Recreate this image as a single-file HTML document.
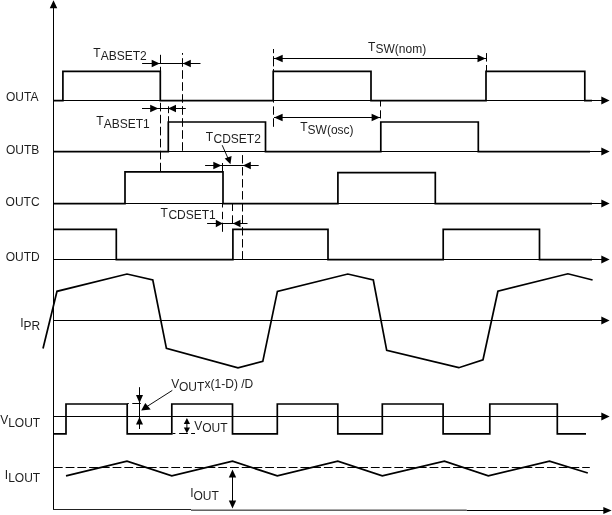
<!DOCTYPE html>
<html><head><meta charset="utf-8"><title>Timing diagram</title>
<style>
html,body{margin:0;padding:0;background:#fff;}
svg{display:block;will-change:transform;}
text{font-family:"Liberation Sans",sans-serif;fill:#1e1e1e;}
</style></head>
<body>
<svg width="612" height="515" viewBox="0 0 612 515">
<rect width="612" height="515" fill="#fff"/>
<line x1="53.5" y1="8" x2="53.5" y2="510" stroke="#000" stroke-width="1" />
<polygon points="53.5,0.3 49.75,8.3 57.25,8.3" fill="#000"/>
<line x1="53" y1="509.5" x2="191" y2="509.5" stroke="#222" stroke-width="1"/>
<line x1="191" y1="510.15" x2="466.7" y2="510.15" stroke="#000" stroke-width="0.95"/>
<line x1="466.7" y1="510.5" x2="604" y2="510.5" stroke="#000" stroke-width="1" />
<polygon points="611.6,510.5 603.3,506.9 603.3,514.1" fill="#000"/>
<line x1="53.5" y1="100.5" x2="603" y2="100.5" stroke="#000" stroke-width="1" />
<polygon points="609.6,100.5 601.3,96.6 601.3,104.4" fill="#000"/>
<line x1="53.5" y1="151.5" x2="603" y2="151.5" stroke="#000" stroke-width="1" />
<polygon points="609.6,151.5 601.3,147.6 601.3,155.4" fill="#000"/>
<line x1="53.5" y1="203.5" x2="603" y2="203.5" stroke="#000" stroke-width="1" />
<polygon points="609.6,203.5 601.3,199.6 601.3,207.4" fill="#000"/>
<line x1="53.5" y1="259.5" x2="603" y2="259.5" stroke="#000" stroke-width="1" />
<polygon points="609.6,259.5 601.3,255.6 601.3,263.4" fill="#000"/>
<line x1="53.5" y1="320.5" x2="603" y2="320.5" stroke="#000" stroke-width="1" />
<polygon points="609.6,320.5 601.3,316.6 601.3,324.4" fill="#000"/>
<line x1="53.5" y1="416.5" x2="603" y2="416.5" stroke="#000" stroke-width="1" />
<polygon points="609.6,416.5 601.3,412.6 601.3,420.4" fill="#000"/>
<polyline points="53.5,100.7 62.9,100.7 62.9,71.3 160.3,71.3 160.3,100.7 273.2,100.7 273.2,71.3 371,71.3 371,100.7 486,100.7 486,71.3 584.8,71.3 584.8,100.7 592,100.7" fill="none" stroke="#000" stroke-width="1.7" stroke-linejoin="miter" />
<polyline points="53.5,151.7 168.3,151.7 168.3,122 265.5,122 265.5,151.7 380.8,151.7 380.8,122 478.3,122 478.3,151.7 590,151.7" fill="none" stroke="#000" stroke-width="1.7" stroke-linejoin="miter" />
<polyline points="53.5,203.7 125,203.7 125,171.85 223,171.85 223,203.7 337.9,203.7 337.9,172.65 435.3,172.65 435.3,203.7 592,203.7" fill="none" stroke="#000" stroke-width="1.7" stroke-linejoin="miter" />
<polyline points="53.5,229.3 116.3,229.3 116.3,259.7 232.9,259.7 232.9,229.3 328,229.3 328,259.7 443.2,259.7 443.2,229.3 539.5,229.3 539.5,259.7 592,259.7" fill="none" stroke="#000" stroke-width="1.7" stroke-linejoin="miter" />
<polyline points="43,348.5 57,291.3 127,274 152.8,280 166.4,348.4 238,367.8 262.8,361.4 277.4,291.4 347.8,274 373.3,280 386.7,350.3 458.8,367.7 483,359.8 497.9,291.2 567.9,273.8 592.6,280" fill="none" stroke="#000" stroke-width="1.7" stroke-linejoin="miter" />
<polyline points="53.5,433.8 66,433.8 66,404 127.2,404 127.2,433.8 171.8,433.8 171.8,404 232.5,404 232.5,433.8 277.3,433.8 277.3,404 337.8,404 337.8,433.8 382.3,433.8 382.3,404 443.1,404 443.1,433.8 489.8,433.8 489.8,404 557.3,404 557.3,433.8 586,433.8" fill="none" stroke="#000" stroke-width="1.7" stroke-linejoin="miter" />
<polyline points="66,475.9 127,461.2 171.8,475.9 232.5,461.2 277.3,475.9 337.8,461.2 382.3,475.9 444.4,461.2 488.3,475.9 549.5,461.2 587.8,473" fill="none" stroke="#000" stroke-width="1.7" stroke-linejoin="miter" />
<line x1="53.9" y1="467.5" x2="589.8" y2="467.5" stroke="#000" stroke-width="1" stroke-dasharray="8.8 2.94" stroke-dashoffset="0"/>
<line x1="142.1" y1="63.5" x2="200.5" y2="63.5" stroke="#000" stroke-width="1" />
<polygon points="159.8,63.5 151.7,59.8 151.7,67.2" fill="#000"/>
<polygon points="182.8,63.5 190.8,59.8 190.8,67.2" fill="#000"/>
<line x1="142" y1="108.5" x2="185.8" y2="108.5" stroke="#000" stroke-width="1" />
<polygon points="158.4,108.5 150.2,104.8 150.2,112.2" fill="#000"/>
<polygon points="168.1,108.5 176.0,104.8 176.0,112.2" fill="#000"/>
<line x1="274" y1="58.5" x2="486" y2="58.5" stroke="#000" stroke-width="1" />
<polygon points="274.2,58.5 282.7,54.8 282.7,62.2" fill="#000"/>
<polygon points="485.6,58.5 477.5,54.8 477.5,62.2" fill="#000"/>
<line x1="274" y1="117.5" x2="380" y2="117.5" stroke="#000" stroke-width="1" />
<polygon points="274.1,117.5 282.6,113.8 282.6,121.2" fill="#000"/>
<polygon points="379.9,117.5 371.6,113.8 371.6,121.2" fill="#000"/>
<line x1="205.1" y1="165.5" x2="258.7" y2="165.5" stroke="#000" stroke-width="1" />
<polygon points="221.5,165.5 213.3,161.8 213.3,169.2" fill="#000"/>
<polygon points="242.9,165.5 250.8,161.8 250.8,169.2" fill="#000"/>
<line x1="222.2" y1="145.2" x2="228.3" y2="159" stroke="#000" stroke-width="0.95" />
<polygon points="230.45,164.2 224.7,158.6 231.6,155.9" fill="#000"/>
<line x1="207.1" y1="223.5" x2="247.5" y2="223.5" stroke="#000" stroke-width="1" />
<polygon points="222.8,223.5 215.8,219.8 215.8,227.2" fill="#000"/>
<polygon points="232.9,223.5 240.5,219.8 240.5,227.2" fill="#000"/>
<line x1="160.5" y1="54.8" x2="160.5" y2="63.4" stroke="#000" stroke-width="1" />
<line x1="160.5" y1="66.8" x2="160.5" y2="75.4" stroke="#000" stroke-width="1" />
<line x1="160.5" y1="78.8" x2="160.5" y2="87.4" stroke="#000" stroke-width="1" />
<line x1="160.5" y1="90.8" x2="160.5" y2="99.4" stroke="#000" stroke-width="1" />
<line x1="160.5" y1="102.8" x2="160.5" y2="111.4" stroke="#000" stroke-width="1" />
<line x1="160.5" y1="114.8" x2="160.5" y2="123.4" stroke="#000" stroke-width="1" />
<line x1="160.5" y1="126.8" x2="160.5" y2="135.4" stroke="#000" stroke-width="1" />
<line x1="160.5" y1="138.8" x2="160.5" y2="147.4" stroke="#000" stroke-width="1" />
<line x1="160.5" y1="150.8" x2="160.5" y2="159.4" stroke="#000" stroke-width="1" />
<line x1="160.5" y1="162.8" x2="160.5" y2="171" stroke="#000" stroke-width="1" />
<line x1="182.5" y1="53" x2="182.5" y2="54.8" stroke="#000" stroke-width="1" />
<line x1="182.5" y1="58.2" x2="182.5" y2="66.8" stroke="#000" stroke-width="1" />
<line x1="182.5" y1="70.2" x2="182.5" y2="78.8" stroke="#000" stroke-width="1" />
<line x1="182.5" y1="82.2" x2="182.5" y2="90.8" stroke="#000" stroke-width="1" />
<line x1="182.5" y1="94.2" x2="182.5" y2="102.8" stroke="#000" stroke-width="1" />
<line x1="182.5" y1="106.2" x2="182.5" y2="114.8" stroke="#000" stroke-width="1" />
<line x1="182.5" y1="118.2" x2="182.5" y2="126.8" stroke="#000" stroke-width="1" />
<line x1="182.5" y1="130.2" x2="182.5" y2="138.8" stroke="#000" stroke-width="1" />
<line x1="182.5" y1="142.2" x2="182.5" y2="150.8" stroke="#000" stroke-width="1" />
<line x1="168.5" y1="106.3" x2="168.5" y2="113.2" stroke="#000" stroke-width="1" />
<line x1="168.5" y1="116.2" x2="168.5" y2="122" stroke="#000" stroke-width="1" />
<line x1="273.5" y1="49" x2="273.5" y2="53.2" stroke="#000" stroke-width="1" />
<line x1="273.5" y1="56.2" x2="273.5" y2="66.4" stroke="#000" stroke-width="1" />
<line x1="273.5" y1="69" x2="273.5" y2="71.5" stroke="#000" stroke-width="1" />
<line x1="273.5" y1="100.5" x2="273.5" y2="102.6" stroke="#000" stroke-width="1" />
<line x1="273.5" y1="106.4" x2="273.5" y2="114.75" stroke="#000" stroke-width="1" />
<line x1="273.5" y1="118.25" x2="273.5" y2="126.8" stroke="#000" stroke-width="1" />
<line x1="486.5" y1="53.1" x2="486.5" y2="61.6" stroke="#000" stroke-width="1" />
<line x1="486.5" y1="65" x2="486.5" y2="71.5" stroke="#000" stroke-width="1" />
<line x1="380.5" y1="100.9" x2="380.5" y2="106.5" stroke="#000" stroke-width="1" />
<line x1="380.5" y1="110.3" x2="380.5" y2="118.5" stroke="#000" stroke-width="1" />
<line x1="242.5" y1="155.1" x2="242.5" y2="163.5" stroke="#000" stroke-width="1" />
<line x1="242.5" y1="167.1" x2="242.5" y2="175.5" stroke="#000" stroke-width="1" />
<line x1="242.5" y1="179.1" x2="242.5" y2="187.5" stroke="#000" stroke-width="1" />
<line x1="242.5" y1="191.1" x2="242.5" y2="199.5" stroke="#000" stroke-width="1" />
<line x1="242.5" y1="203.1" x2="242.5" y2="211.5" stroke="#000" stroke-width="1" />
<line x1="242.5" y1="215.1" x2="242.5" y2="223.5" stroke="#000" stroke-width="1" />
<line x1="242.5" y1="227.1" x2="242.5" y2="235.5" stroke="#000" stroke-width="1" />
<line x1="242.5" y1="239.1" x2="242.5" y2="247.5" stroke="#000" stroke-width="1" />
<line x1="242.5" y1="251.1" x2="242.5" y2="259.5" stroke="#000" stroke-width="1" />
<line x1="222.5" y1="163" x2="222.5" y2="172" stroke="#000" stroke-width="1" />
<line x1="222.5" y1="203.5" x2="222.5" y2="207.5" stroke="#000" stroke-width="1" />
<line x1="222.5" y1="211.8" x2="222.5" y2="219.2" stroke="#000" stroke-width="1" />
<line x1="222.5" y1="222.7" x2="222.5" y2="231.8" stroke="#000" stroke-width="1" />
<line x1="232.5" y1="204" x2="232.5" y2="211" stroke="#000" stroke-width="1" />
<line x1="232.5" y1="215.3" x2="232.5" y2="223.5" stroke="#000" stroke-width="1" />
<line x1="139.5" y1="387.2" x2="139.5" y2="429" stroke="#000" stroke-width="1" />
<polygon points="139.5,402.9 136.0,395.0 143.0,395.0" fill="#000"/>
<polygon points="139.5,417 136.0,424.6 143.0,424.6" fill="#000"/>
<line x1="127.5" y1="403.5" x2="128.8" y2="403.5" stroke="#000" stroke-width="1" />
<line x1="132.25" y1="403.5" x2="140.8" y2="403.5" stroke="#000" stroke-width="1" />
<line x1="172.3" y1="390.4" x2="147" y2="406.5" stroke="#000" stroke-width="0.95" />
<polygon points="141.2,410.4 145.3,402.9 150.7,409.6" fill="#000"/>
<line x1="186.9" y1="420" x2="186.9" y2="431" stroke="#000" stroke-width="1" />
<polygon points="186.9,418.1 183.8,424.1 190.0,424.1" fill="#000"/>
<polygon points="186.9,433.2 183.8,427.4 190.0,427.4" fill="#000"/>
<line x1="172.5" y1="433.5" x2="175.4" y2="433.5" stroke="#000" stroke-width="1" />
<line x1="179.1" y1="433.5" x2="187.9" y2="433.5" stroke="#000" stroke-width="1" />
<line x1="191.1" y1="433.5" x2="195" y2="433.5" stroke="#000" stroke-width="1" />
<line x1="232.5" y1="472" x2="232.5" y2="505" stroke="#000" stroke-width="1" />
<polygon points="232.5,469.6 228.8,477.4 236.2,477.4" fill="#000"/>
<polygon points="232.5,508.6 228.8,500.6 236.2,500.6" fill="#000"/>
<text x="6" y="100.5" font-size="12">OUTA</text>
<text x="6" y="154" font-size="12">OUTB</text>
<text x="5.6" y="205.6" font-size="12">OUTC</text>
<text x="5.7" y="260.5" font-size="12">OUTD</text>
<text x="20.17" y="326.9" font-size="12">I</text>
<text x="23.5" y="329.5" font-size="12">PR</text>
<text x="0.2" y="424.4" font-size="12">V</text>
<text x="8.2" y="427.0" font-size="12">LOUT</text>
<text x="4.87" y="479.2" font-size="12">I</text>
<text x="8.2" y="481.8" font-size="12">LOUT</text>
<text x="93.37" y="56.9" font-size="12">T</text>
<text x="100.7" y="59.5" font-size="12">ABSET2</text>
<text x="96.37" y="125.0" font-size="12">T</text>
<text x="103.7" y="127.6" font-size="12">ABSET1</text>
<text x="368.07" y="50.8" font-size="12">T</text>
<text x="375.5" y="53.4" font-size="12">SW(nom)</text>
<text x="300.27" y="131.0" font-size="12">T</text>
<text x="307.6" y="133.6" font-size="12">SW(osc)</text>
<text x="205.87" y="140.9" font-size="12">T</text>
<text x="213.5" y="143.2" font-size="12">CDSET2</text>
<text x="160.57" y="216.9" font-size="12">T</text>
<text x="168.4" y="219.3" font-size="12">CDSET1</text>
<text x="171.3" y="388.1" font-size="12">V</text>
<text x="178.9" y="390.8" font-size="12">OUT</text>
<text x="204.6" y="388.3" font-size="12">x(1-D) /D</text>
<text x="194.2" y="429.8" font-size="12">V</text>
<text x="202.2" y="432.4" font-size="12">OUT</text>
<text x="190.17" y="497.1" font-size="12">I</text>
<text x="193.5" y="499.7" font-size="12">OUT</text>
</svg>
</body></html>
